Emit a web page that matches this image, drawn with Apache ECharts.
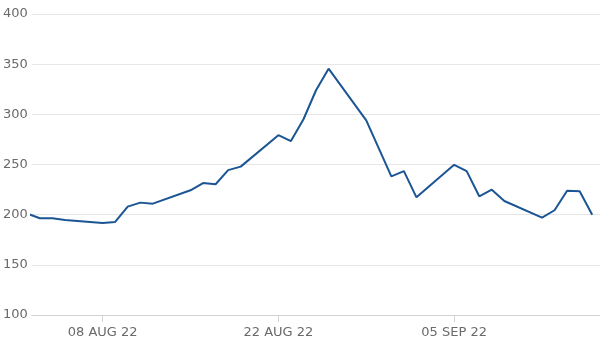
<!DOCTYPE html>
<html><head><meta charset="utf-8">
<script src="https://cdn.jsdelivr.net/npm/echarts@6/dist/echarts.min.js"></script>
<style>html,body{margin:0;padding:0;background:#fff}#c{width:600px;height:345px}</style>
</head><body><div id="c"></div>
<script>
const dates = ['2022-08-02','2022-08-03','2022-08-04','2022-08-05','2022-08-08','2022-08-09','2022-08-10','2022-08-11','2022-08-12',
  '2022-08-15','2022-08-16','2022-08-17','2022-08-18','2022-08-19','2022-08-22','2022-08-23','2022-08-24','2022-08-25','2022-08-26',
  '2022-08-29','2022-08-30','2022-08-31','2022-09-01','2022-09-02','2022-09-05','2022-09-06','2022-09-07','2022-09-08','2022-09-09',
  '2022-09-12','2022-09-13','2022-09-14','2022-09-15','2022-09-16'];
const values = [201.1,196.4,196.4,194.8,191.7,192.7,208.0,212.0,211.0,
  224.3,231.5,230.3,244.4,247.9,279.2,273.3,295.1,324.0,345.5,
  294.0,266.0,238.1,243.4,217.3,249.7,243.4,218.3,224.9,213.6,
  197.0,204.4,223.9,223.3,200.0];
const xTickDates = ['2022-08-08','2022-08-22','2022-09-05'];
const yMin = 100, yMax = 400, yStep = 50;
const months = ['JAN','FEB','MAR','APR','MAY','JUN','JUL','AUG','SEP','OCT','NOV','DEC'];

const DAY = 86400000;
const ts = s => { const p = s.split('-').map(Number); return Date.UTC(p[0], p[1]-1, p[2]); };
const seriesData = dates.map((d, i) => [ts(d), values[i]]);
const tickVals = xTickDates.map(ts);
const fmt = v => { const d = new Date(v); const dd = String(d.getUTCDate()).padStart(2,'0');
  return dd + ' ' + months[d.getUTCMonth()] + ' ' + String(d.getUTCFullYear()).slice(2); };

const chart = echarts.init(document.getElementById('c'), null, {renderer:'canvas'});
chart.setOption({
  animation: false,
  grid: {left: 30, right: 0, top: 14, bottom: 30},
  xAxis: {
    type: 'value',
    min: ts(dates[0]) + 0.36*DAY,
    max: ts(dates[dates.length-1]) + 0.62*DAY,
    axisLine: {show: true, lineStyle: {color: '#d2d2d2', width: 1}},
    axisTick: {show: true, customValues: tickVals, length: 7, lineStyle: {color: '#d4d4d4'}},
    axisLabel: {customValues: tickVals, formatter: fmt, color: '#6a6a6a', fontFamily: 'DejaVu Sans', fontSize: 13, margin: 11},
    splitLine: {show: false}
  },
  yAxis: {
    type: 'value', min: yMin, max: yMax, interval: yStep,
    axisLine: {show: false}, axisTick: {show: false},
    axisLabel: {color: '#6a6a6a', fontFamily: 'DejaVu Sans', fontSize: 13, margin: 4},
    splitLine: {lineStyle: {color: '#e6e6e6', width: 1}}
  },
  series: [{
    type: 'line', data: seriesData, showSymbol: false, symbol: 'none',
    lineStyle: {color: '#1b5593', width: 2}, clip: true
  }]
});
</script></body></html>
